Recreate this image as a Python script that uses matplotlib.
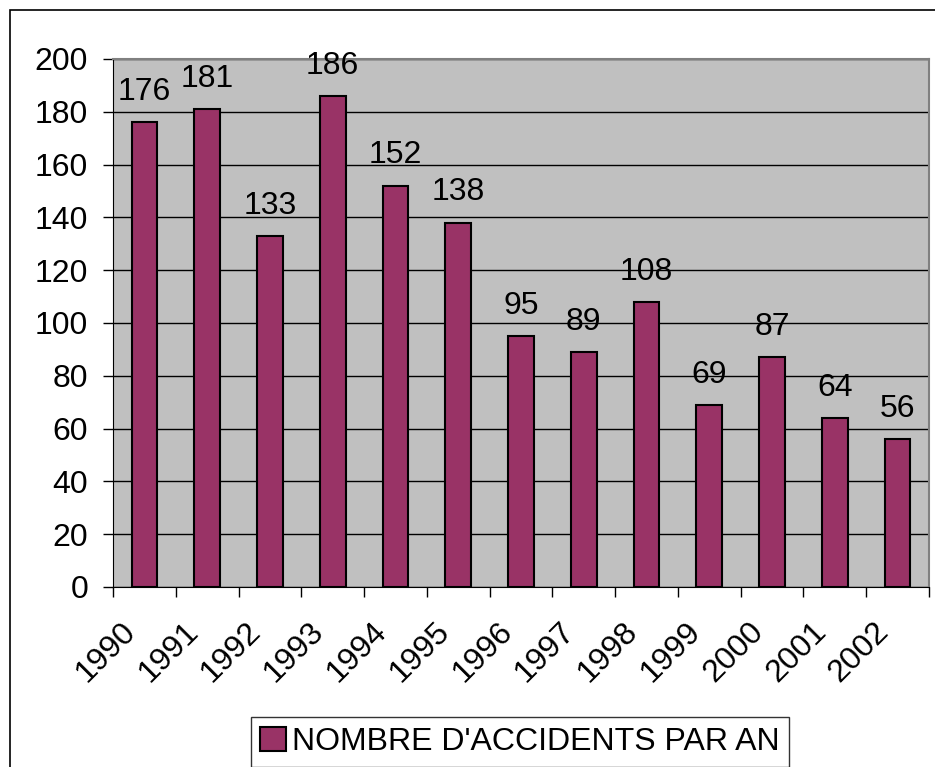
import matplotlib
matplotlib.use("Agg")
import matplotlib.pyplot as plt
from matplotlib.patches import Rectangle
import numpy as np

years = ["1990", "1991", "1992", "1993", "1994", "1995", "1996",
         "1997", "1998", "1999", "2000", "2001", "2002"]
accidents = [176, 181, 133, 186, 152, 138, 95, 89, 108, 69, 87, 64, 56]
series_name = "NOMBRE D'ACCIDENTS PAR AN"

plt.rcParams["font.family"] = ["Liberation Sans", "DejaVu Sans"]
FS = 23

W, H = 935, 767
fig = plt.figure(figsize=(W / 100, H / 100), dpi=100)

# outer chart border (Excel-like)
fig.patches.append(Rectangle((10 / W, -0.1), 1.2, (H - 10) / H + 0.1,
                             transform=fig.transFigure, fill=False,
                             edgecolor="black", linewidth=1.2))

ax = fig.add_axes([113 / W, (H - 587) / H, (929 - 113) / W, (587 - 59) / H])
ax.set_facecolor("#c0c0c0")

x = np.arange(len(years)) + 0.5
bars = ax.bar(x, accidents, width=0.41, color="#993366", edgecolor="black",
              linewidth=1.5, label=series_name, zorder=3)
ax.bar_label(bars, labels=[str(v) for v in accidents], padding=11, fontsize=FS)

ax.set_xlim(0, len(years))
ax.set_ylim(0, 200)
ax.set_yticks(range(0, 201, 20))
ax.yaxis.grid(True, color="black", linewidth=1.0, zorder=0)
ax.set_axisbelow(True)

# tick marks between categories; rotated labels hang just left of centres
ax.set_xticks(np.arange(len(years) + 1))
ax.set_xticklabels([])
ax.set_xticks(x - 0.38, minor=True)
ax.set_xticklabels(years, minor=True, rotation=45, ha="right",
                   rotation_mode="anchor", fontsize=FS)
ax.tick_params(axis="x", which="major", length=7, width=1, color="black")
ax.tick_params(axis="x", which="minor", length=0, pad=21)
ax.tick_params(axis="y", length=7, width=1, labelsize=FS, pad=11)

for side in ["top", "right"]:
    ax.spines[side].set_color("#808080")
    ax.spines[side].set_linewidth(1.5)
ax.spines["left"].set_color("black")
ax.spines["bottom"].set_color("black")

leg = fig.legend(loc="center", bbox_to_anchor=(520 / W, (H - 742) / H),
                 fontsize=FS, frameon=True, fancybox=False, handlelength=0.8,
                 handleheight=0.8, handletextpad=0.2, borderpad=0.3,
                 borderaxespad=0)
leg.get_frame().set_edgecolor("black")
leg.get_frame().set_linewidth(1.0)

fig.savefig("out.png", dpi=100)
